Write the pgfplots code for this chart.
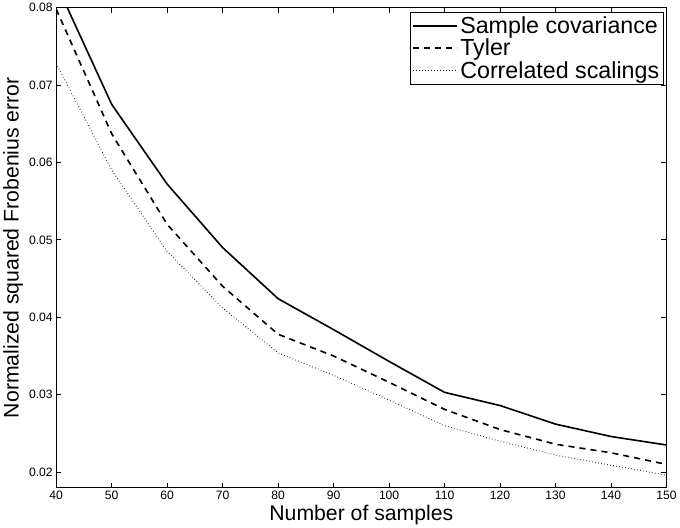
\documentclass[border=0pt]{standalone}
\usepackage{fontspec}
\setmainfont{Liberation Sans}
\usepackage{pgfplots}
\pgfplotsset{compat=1.18}

\begin{document}
\begin{tikzpicture}
  \begin{axis}[
      scale only axis,
      width=604pt, height=475pt,
      xmin=40, xmax=150, ymin=0.018, ymax=0.08,
      xtick={40,50,...,150},
      ytick={0.02,0.03,...,0.08},
      scaled y ticks=false,
      yticklabel style={/pgf/number format/fixed, /pgf/number format/precision=2,
        /pgf/number format/fixed zerofill},
      /pgf/number format/assume math mode=true,
      tick label style={font=\fontsize{12}{13}\selectfont},
      label style={font=\fontsize{21}{23}\selectfont},
      xlabel={Number of samples},
      ylabel={Normalized squared Frobenius error},
      xlabel style={yshift=2pt},
      ylabel style={yshift=-1pt},
      tick align=inside, major tick length=5pt,
      axis line style={line width=1.2pt},
      every tick/.style={black, line width=0.8pt},
      legend style={at={(rel axis cs:0.995,0.99)}, anchor=north east,
        font=\fontsize{23}{26}\selectfont, draw=black,
        inner sep=2pt, row sep=0pt, cells={anchor=west}},
      legend cell align=left,
      legend image code/.code={\draw[#1] (0pt,0pt) -- (44pt,0pt);},
    ]
    \addplot[black, line width=1.6pt] coordinates {
      (40,0.0831) (50,0.0675) (60,0.0572) (70,0.0490) (80,0.0424) (90,0.0384)
      (100,0.0343) (110,0.0303) (120,0.0286) (130,0.0262) (140,0.0246) (150,0.0235)};
    \addlegendentry{Sample covariance}
    \addplot[black, line width=1.6pt, dash pattern=on 6pt off 5pt] coordinates {
      (40,0.0798) (50,0.0637) (60,0.0520) (70,0.0440) (80,0.0378) (90,0.0350)
      (100,0.0316) (110,0.0281) (120,0.0255) (130,0.0236) (140,0.0225) (150,0.0210)};
    \addlegendentry{Tyler}
    \addplot[black, line width=0.9pt, dash pattern=on 0.6pt off 2.4pt] coordinates {
      (40,0.0728) (50,0.0590) (60,0.0485) (70,0.0412) (80,0.0354) (90,0.0325)
      (100,0.0293) (110,0.0260) (120,0.0240) (130,0.0222) (140,0.0209) (150,0.0196)};
    \addlegendentry{Correlated scalings}
  \end{axis}
\end{tikzpicture}
\end{document}
